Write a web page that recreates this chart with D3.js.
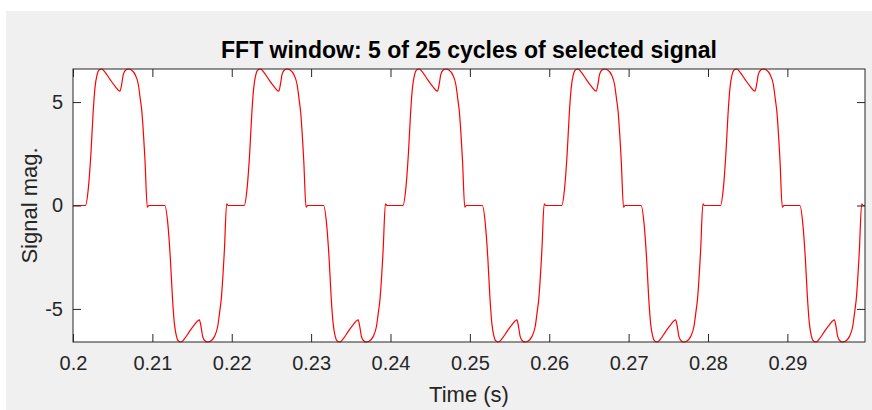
<!DOCTYPE html>
<html>
<head>
<meta charset="utf-8">
<script src="https://cdn.jsdelivr.net/npm/d3@7"></script>
<style>
  body { margin: 0; background: #ffffff; }
  text { font-family: "Liberation Sans", Arial, Helvetica, sans-serif; }
</style>
</head>
<body>
<div id="chart"></div>
<script>
// start time (s) of each displayed cycle
const cycleStarts = [0.2, 0.22, 0.24, 0.26, 0.28];
// one 20 ms cycle: time within cycle (ms) and magnitude
const cycleMs = [
  0, 1.57, 1.95, 2.27, 2.52, 2.77, 3.02, 3.28, 3.62, 4.03, 4.66, 5.29, 5.92, 6.15, 6.34, 6.65, 6.97, 7.35,
  7.81, 8.23, 8.50, 8.66, 9.07, 9.36, 9.55,
  11.57, 11.95, 12.27, 12.52, 12.77, 13.02, 13.28, 13.62, 14.03, 14.66, 15.29, 15.92, 16.15, 16.34, 16.65, 16.97, 17.35,
  17.81, 18.23, 18.50, 18.66, 19.07, 19.36, 19.55, 20
];
const cycleVal = [
  0, 0, 0.9, 2.6, 4.4, 5.7, 6.3, 6.55, 6.6, 6.45, 6.1, 5.77, 5.53, 5.9, 6.34, 6.55, 6.6, 6.55,
  6.34, 5.85, 5.08, 4.6, 2.18, -0.08, 0,
  0, -0.9, -2.6, -4.4, -5.7, -6.3, -6.55, -6.6, -6.45, -6.1, -5.77, -5.53, -5.9, -6.34, -6.55, -6.6, -6.55,
  -6.34, -5.85, -5.08, -4.6, -2.18, 0.08, 0, 0
];
const xTicks = [0.2, 0.21, 0.22, 0.23, 0.24, 0.25, 0.26, 0.27, 0.28, 0.29];
const xTickLabels = ["0.2", "0.21", "0.22", "0.23", "0.24", "0.25", "0.26", "0.27", "0.28", "0.29"];
const yTicks = [-5, 0, 5];
const yTickLabels = ["-5", "0", "5"];

const W = 872, H = 410;
const axL = 73, axR = 865, axT = 69, axB = 342;
const axisColor = "#262626";

const svg = d3.select("#chart").append("svg").attr("width", W).attr("height", H);

// figure background
svg.append("rect").attr("x", 6).attr("y", 11).attr("width", W - 6).attr("height", H - 11).attr("fill", "#f0f0f0");
svg.append("rect").attr("x", axL).attr("y", axT).attr("width", axR - axL).attr("height", axB - axT).attr("fill", "#ffffff");

const x = d3.scaleLinear().domain([0.2, 0.29978]).range([axL, axR]);
const y = d3.scaleLinear().domain([-6.6, 6.6]).range([axB, axT]);

// build the signal from the cycle shape
let pts = [];
cycleStarts.forEach(s => {
  cycleMs.forEach((m, i) => {
    pts.push([s + m / 1000, cycleVal[i]]);
  });
});

svg.append("clipPath").attr("id", "clip")
  .append("rect").attr("x", axL).attr("y", axT - 1).attr("width", axR - axL).attr("height", axB - axT + 2);

const line = d3.line()
  .x(d => x(d[0]))
  .y(d => y(d[1]))
  .curve(d3.curveMonotoneX);

svg.append("path")
  .datum(pts)
  .attr("clip-path", "url(#clip)")
  .attr("d", line)
  .attr("fill", "none")
  .attr("stroke", "#ff0000")
  .attr("stroke-width", 1.2);

// axes
const gx = svg.append("g").attr("transform", `translate(0,${axB})`)
  .call(d3.axisBottom(x).tickValues(xTicks).tickFormat((d, i) => xTickLabels[i]).tickSizeInner(-8).tickSizeOuter(0).tickPadding(14));
const gxt = svg.append("g").attr("transform", `translate(0,${axT})`)
  .call(d3.axisTop(x).tickValues(xTicks).tickFormat("").tickSizeInner(-8).tickSizeOuter(0));
const gy = svg.append("g").attr("transform", `translate(${axL},0)`)
  .call(d3.axisLeft(y).tickValues(yTicks).tickFormat((d, i) => yTickLabels[i]).tickSizeInner(-8).tickSizeOuter(0).tickPadding(10));
const gyr = svg.append("g").attr("transform", `translate(${axR},0)`)
  .call(d3.axisRight(y).tickValues(yTicks).tickFormat("").tickSizeInner(-8).tickSizeOuter(0));

[gx, gxt, gy, gyr].forEach(g => {
  g.select(".domain").remove();
  g.selectAll("line").attr("stroke", axisColor);
  g.selectAll("text").attr("fill", axisColor).style("font-size", "20px").style("font-family", "'Liberation Sans', Arial, sans-serif");
});

// box
svg.append("rect").attr("x", axL).attr("y", axT).attr("width", axR - axL).attr("height", axB - axT)
  .attr("fill", "none").attr("stroke", axisColor).attr("stroke-width", 1);

// title and labels
svg.append("text")
  .attr("x", (axL + axR) / 2)
  .attr("y", 58)
  .attr("text-anchor", "middle")
  .style("font-size", "23px")
  .style("font-weight", "bold")
  .attr("fill", "#000000")
  .text("FFT window: 5 of 25 cycles of selected signal");

svg.append("text")
  .attr("x", (axL + axR) / 2)
  .attr("y", 402)
  .attr("text-anchor", "middle")
  .style("font-size", "22px")
  .attr("fill", axisColor)
  .text("Time (s)");

svg.append("text")
  .attr("transform", `translate(37,${(axT + axB) / 2}) rotate(-90)`)
  .attr("text-anchor", "middle")
  .style("font-size", "22px")
  .attr("fill", axisColor)
  .text("Signal mag.");
</script>
</body>
</html>
